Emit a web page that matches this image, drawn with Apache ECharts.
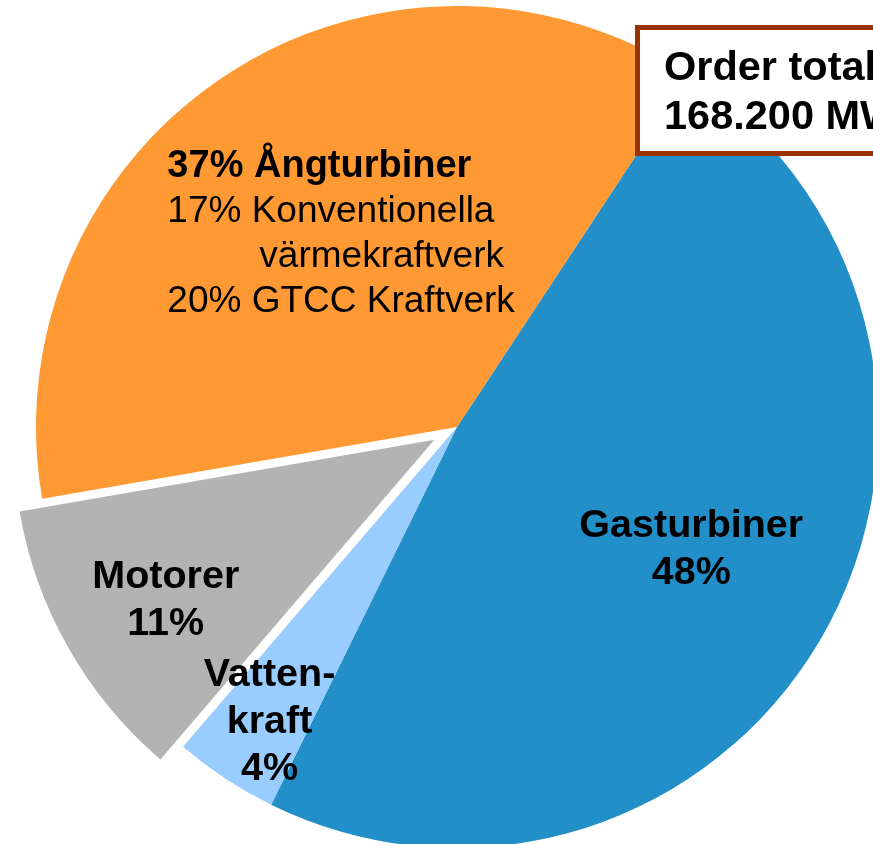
<!DOCTYPE html>
<html>
<head>
<meta charset="utf-8">
<script src="https://cdn.jsdelivr.net/npm/echarts@6/dist/echarts.min.js"></script>
<style>
html, body { margin: 0; padding: 0; background: #fff; }
#main { width: 873px; height: 844px; }
</style>
</head>
<body>
<div id="main"></div>
<script>
// orderingång per produktgrupp, procent
var names = ['Gasturbiner', 'Vattenkraft', 'Motorer', 'Ångturbiner'];
var values = [48, 4, 11, 37];
var colors = ['#238fc9', '#99ccff', '#b3b3b3', '#ff9933'];
// ångturbiner delas upp i två
var subValues = [17, 20];
var subNames = ['Konventionella', 'GTCC Kraftverk'];
var totalText = ['Order total', '168.200 MW'];

var FONT = '"Liberation Sans", Arial, sans-serif';
// etiketternas förskjutning från standardläget (px)
var labelShift = [[49, 17], [-70, 117], [-83, 55], [1, -14]];

var chart = echarts.init(document.getElementById('main'));

function labelText(p) {
	var i = p.dataIndex;
	if (i === 0) return '{b|' + names[0] + '}\n{b|' + values[0] + '%}';
	if (i === 1) return '{b|Vatten-}\n{b|kraft}\n{b|' + values[1] + '%}';
	if (i === 2) return '{b|' + names[2] + '}\n{b|' + values[2] + '%}';
	return '{bl|' + values[3] + '% ' + names[3] + '}\n' +
		'{r|' + subValues[0] + '% ' + subNames[0] + '}\n' +
		'{ri|värmekraftverk}\n' +
		'{r|' + subValues[1] + '% ' + subNames[1] + '}';
}

var data = names.map(function (n, i) {
	return {
		name: n,
		value: values[i],
		selected: i === 2,
		itemStyle: { color: colors[i] },
		select: { itemStyle: { color: colors[i] } }
	};
});

var option = {
	animation: false,
	series: [{
		type: 'pie',
		center: [457, 427],
		radius: 421,
		startAngle: 90 - 33.4,
		clockwise: true,
		selectedMode: 'single',
		selectedOffset: 26,
		avoidLabelOverlap: false,
		emphasis: { disabled: true },
		label: {
			show: true,
			position: 'inside',
			color: '#000',
			fontFamily: FONT,
			formatter: labelText,
			rich: {
				b: { fontSize: 39.5, fontWeight: 'bold', lineHeight: 47, fontFamily: FONT, color: '#000' },
				bl: { fontSize: 38, fontWeight: 'bold', lineHeight: 45, align: 'left', fontFamily: FONT, color: '#000' },
				r: { fontSize: 37, lineHeight: 45, align: 'left', fontFamily: FONT, color: '#000' },
				ri: { fontSize: 37, lineHeight: 45, align: 'left', padding: [0, 0, 0, 92], fontFamily: FONT, color: '#000' }
			}
		},
		labelLine: { show: false },
		labelLayout: function (p) {
			return { dx: labelShift[p.dataIndex][0], dy: labelShift[p.dataIndex][1] };
		},
		data: data
	}],
	graphic: [{
		type: 'rect',
		z: 100,
		zlevel: 1,
		shape: { x: 637.5, y: 27.5, width: 300, height: 126 },
		style: { fill: '#fff', stroke: '#993300', lineWidth: 5 }
	}, {
		type: 'text',
		z: 101,
		zlevel: 1,
		x: 664,
		y: 44,
		style: {
			text: totalText.join('\n'),
			font: 'bold 41.5px ' + FONT,
			lineHeight: 49,
			fill: '#000',
			verticalAlign: 'top'
		}
	}]
};

chart.setOption(option);
</script>
</body>
</html>
